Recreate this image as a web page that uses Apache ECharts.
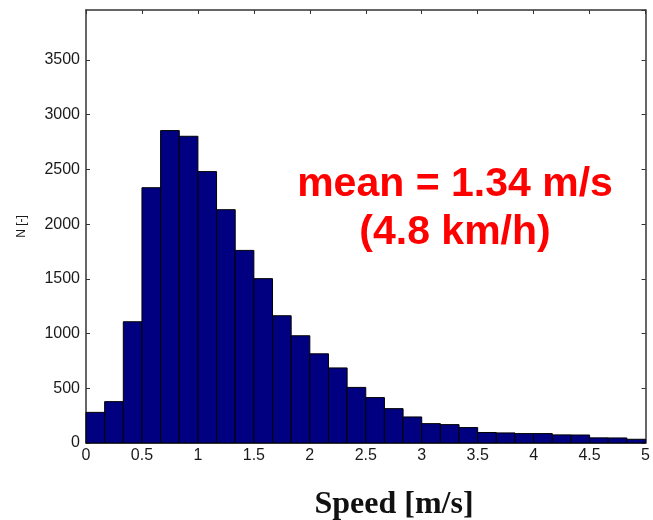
<!DOCTYPE html>
<html lang="en">
<head>
    <meta charset="UTF-8">
    <title>Speed histogram</title>
    <script src="https://cdn.jsdelivr.net/npm/echarts@6.0.0/dist/echarts.min.js"></script>
    <style>
        html, body { margin: 0; padding: 0; background: #fff; }
        #chart { width: 653px; height: 520px; }
    </style>
</head>
<body>
<div id="chart"></div>
<script>
    // histogram bins: 30 bins of 1/6 m/s from 0 to 5
    var binWidth = 1 / 6;
    var counts = [280, 378, 1108, 2333, 2855, 2803, 2480, 2132, 1760, 1502,
                  1163, 980, 815, 686, 508, 415, 314, 238, 177, 168,
                  141, 96, 92, 86, 86, 74, 73, 47, 46, 34];
    var xTicks = [0, 0.5, 1, 1.5, 2, 2.5, 3, 3.5, 4, 4.5, 5];
    var yTicks = [0, 500, 1000, 1500, 2000, 2500, 3000, 3500];

    var bins = counts.map(function (c, i) {
        return [i * binWidth, (i + 1) * binWidth, c];
    });

    var myChart = echarts.init(document.getElementById('chart'));
    var axisCol = '#333333';
    var labelFont = {color: '#1a1a1a', fontSize: 16, fontFamily: 'Liberation Sans'};

    // frame axis (top / right): line + inward ticks, no labels
    function frameAxis(pos, isX) {
        return {
            type: 'value', position: pos,
            min: isX ? xTicks[0] : yTicks[0],
            max: isX ? xTicks[xTicks.length - 1] : 3957,
            interval: isX ? 0.5 : 500,
            axisLine: {show: true, onZero: false, lineStyle: {color: axisCol, width: 1.5}},
            axisTick: {show: true, inside: true, length: 4, lineStyle: {color: axisCol}},
            axisLabel: {show: false},
            splitLine: {show: false}
        };
    }

    var option = {
        animation: false,
        grid: {left: 86, right: 4, top: 10, bottom: 77},
        xAxis: [{
            type: 'value', min: xTicks[0], max: xTicks[xTicks.length - 1], interval: 0.5, position: 'bottom',
            axisLine: {show: true, onZero: false, lineStyle: {color: axisCol, width: 1.5}},
            axisTick: {show: true, inside: true, length: 4, lineStyle: {color: axisCol}},
            axisLabel: Object.assign({margin: 5, formatter: function (v) { return String(v); }}, labelFont),
            splitLine: {show: false}
        }, frameAxis('top', true)],
        yAxis: [{
            type: 'value', min: yTicks[0], max: 3957, interval: 500, position: 'left',
            axisLine: {show: true, onZero: false, lineStyle: {color: axisCol, width: 1.5}},
            axisTick: {show: true, inside: true, length: 4, lineStyle: {color: axisCol}},
            axisLabel: Object.assign({margin: 6, showMaxLabel: false,
                formatter: function (v) { return String(v); }}, labelFont),
            splitLine: {show: false},
            name: 'N [-]', nameLocation: 'middle', nameGap: 58, nameRotate: 90,
            nameTextStyle: {color: '#1a1a1a', fontSize: 12, fontFamily: 'Liberation Sans'}
        }, frameAxis('right', false)],
        series: [{
            type: 'custom',
            xAxisIndex: 0, yAxisIndex: 0,
            data: bins,
            encode: {x: [0, 1], y: 2},
            renderItem: function (params, api) {
                var p0 = api.coord([api.value(0), 0]);
                var p1 = api.coord([api.value(1), api.value(2)]);
                return {
                    type: 'rect',
                    shape: {x: p0[0], y: p1[1], width: p1[0] - p0[0], height: p0[1] - p1[1]},
                    style: {fill: '#000080', stroke: '#000000', lineWidth: 1}
                };
            }
        }],
        graphic: [{
            type: 'text',
            style: {
                text: 'mean = 1.34 m/s\n(4.8 km/h)', x: 455, y: 161, align: 'center',
                fill: '#ff0000', font: 'bold 41px "Liberation Sans"', lineHeight: 48
            }
        }, {
            type: 'text',
            style: {
                text: 'Speed [m/s]', x: 394, y: 489, align: 'center',
                fill: '#111111', font: 'bold 32px "Liberation Serif"'
            }
        }]
    };
    myChart.setOption(option);
</script>
</body>
</html>
